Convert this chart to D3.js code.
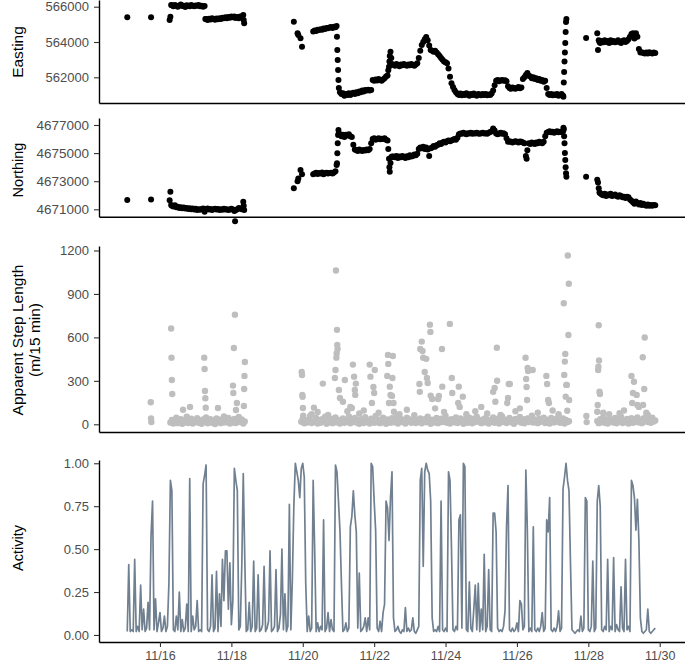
<!DOCTYPE html>
<html><head><meta charset="utf-8">
<script src="https://cdn.jsdelivr.net/npm/d3@7"></script>
<style>body{margin:0;background:#fff}svg{display:block}text{font-family:"Liberation Sans",Arial,sans-serif}</style>
</head><body><svg id="c" width="685" height="662"></svg>
<script>
// ---------------- DATA ----------------
const startTime = "2016-11-15T00:00:00Z";           // hour 0 of every hour offset below
const dateTicks = ["2016-11-16","2016-11-18","2016-11-20","2016-11-22","2016-11-24","2016-11-26","2016-11-28","2016-11-30"];
const eastingTicks = [562000, 564000, 566000];
const northingTicks = [4671000, 4673000, 4675000, 4677000];
const stepTicks = [0, 300, 600, 900, 1200];
const activityTicks = [0, 0.25, 0.5, 0.75, 1];

// GPS fixes: hour offset, easting, northing
const fixHour = [2,18,30.5,31,31.5,
 32,33,34,35,36,37,38,39,40,41,42,43,44,45,46,47,48,49,50,51,52,53,54,
 54.5,55,56,57,58,59,60,61,62,63,64,65,66,67,68,69,70,71,72,73,74,74.5,75,76,77,78,79,80,80.3,80.6,
 114,116.5,117,118.5,119.5,
 127,128,129,130,131,132,133,134,135,136,137,138,139,140,141,142,
 142.75,143,143.25,143.5,143.75,144,144.25,
 145,146,147,148,149,150,151,152,153,154,155,156,157,158,159,160,161,162,163,164,165,166,
 167,168,169,170,171,172,173,174,175,176,177,177.5,178,178.25,178.5,179,179.5,180,
 181,182,183,184,185,186,187,188,189,190,191,192,193,194,195,196,197,
 198,199,200,201,202,203,204,205,206,207,208,209,210,211,212,213,214,215,216,217,218,219,220,221,222,223,
 224,225,226,227,228,229,230,231,232,233,234,235,236,237,238,239,240,241,242,243,244,245,246,247,248,249,
 250,251,252,253,254,255,256,257,258,259,260,261,262,263,264,265,266,267,268,269,270,270.5,271,272,273,274,
 275,276,277,278,279,280,281,282,283,284,285,286,287,288,289,290,291,292,293,294,295,
 295.25,295.5,295.75,296,296.25,296.5,296.75,297,297.25,
 310.5,318,318.5,319,319.5,320,
 321,322,323,324,325,326,327,328,329,330,331,332,333,334,335,336,337,338,339,340,341,342,343,344,345,346,347,
 348,349,350,351,352,353,354,355,356,357];
const easting = [565400,565400,565250,565430,566100,
 566080,566020,566100,566050,566000,566070,566120,566040,566060,565990,566080,566050,566030,566100,566060,566020,566070,566050,566090,566030,566060,566000,566040,
 565300,565300,565250,565320,565280,565350,565300,565260,565330,565290,565350,565310,565380,565340,565400,565350,565420,565380,565440,565400,565450,565380,565380,565420,565350,565450,565400,565530,565250,565060,
 565150,564490,564400,564210,563730,
 564600,564650,564620,564700,564680,564720,564700,564760,564740,564800,564780,564820,564850,564800,564860,564830,
 564900,564300,563550,562980,562410,561850,561400,
 561150,561050,561100,560950,561050,561000,561100,561000,561080,561120,561050,561150,561100,561200,561150,561250,561200,561280,561250,561300,561250,561280,
 561850,561800,561870,561820,561900,561850,561800,561880,561950,562050,562100,562400,562600,562900,563200,563450,563100,562750,
 562700,562650,562750,562700,562620,562720,562680,562750,562700,562650,562730,562680,562760,562700,562650,562720,562800,
 563100,563500,563830,564000,564150,564280,564100,563800,563550,563500,563450,563500,563400,563300,563200,563100,563000,562900,562850,562800,562500,562030,561670,561450,561280,561150,
 561050,561000,561080,560980,561050,561000,561100,561020,560950,561050,561000,561080,561000,560960,561050,561020,560980,561060,561000,561050,560980,561030,561000,561080,561250,561550,
 561800,561850,561780,561820,561850,561800,561830,561780,561500,561400,561350,561420,561380,561350,561400,561450,561380,561420,561900,562000,562130,562100,562240,562100,562050,561950,
 562000,561900,561950,561850,561900,561800,561850,561750,561800,561400,561050,561000,561050,560980,561020,561000,561050,560950,561000,561050,560950,
 560900,561700,562300,562900,563400,563950,564570,565130,565300,
 564230,564490,563550,564100,564000,563950,
 564050,563980,564100,564000,564050,563950,564100,564000,564050,563980,564020,564100,564000,563950,564050,564100,564000,564050,564150,564300,564450,564500,564200,564500,564300,563600,563400,
 563420,563380,563350,563400,563350,563420,563380,563350,563400,563380];
const northing = [4671660,4671700,4671650,4672250,4671300,
 4671250,4671200,4671280,4671150,4671180,4671100,4671150,4671080,4671120,4671050,4671100,4671020,4671080,4671000,4671050,4670980,4671040,4670950,4671000,4670960,4671020,4671050,4670830,
 4671000,4671000,4671050,4670980,4671020,4670950,4671000,4671040,4670980,4671020,4670950,4671000,4670960,4671030,4670980,4671010,4670950,4670990,4671040,4670980,4670880,4670150,4670950,4671000,4671100,4671050,4671000,4671540,4671250,4670950,
 4672500,4673000,4673200,4673800,4673500,
 4673500,4673550,4673600,4673520,4673580,4673550,4673620,4673500,4673560,4673600,4673540,4673580,4673600,4673550,4673620,4673700,
 4674150,4674270,4674990,4675700,4676290,4676650,4676400,
 4676350,4676200,4676300,4676150,4676300,4676250,4676350,4676200,4676150,4675600,4675250,4675200,4675150,4675250,4675200,4675150,4675220,4675180,4675250,4675200,4675300,4675700,
 4676000,4676050,4675950,4676000,4676050,4675980,4676020,4676000,4676050,4675950,4675900,4675300,4674600,4674000,4673670,4674300,4674700,4674750,
 4674750,4674700,4674800,4674650,4674750,4674700,4674800,4674720,4674650,4674780,4674700,4674850,4674750,4674800,4674900,4674850,4674950,
 4675300,4675400,4675350,4675450,4675300,4675400,4675250,4674800,4675350,4675400,4675500,4675450,4675550,4675600,4675700,4675650,4675750,4675800,4675750,4675850,4675900,4675850,4675900,4675950,4676000,4675950,
 4676100,4676350,4676400,4676380,4676450,4676400,4676350,4676420,4676400,4676450,4676380,4676420,4676400,4676450,4676400,4676380,4676420,4676450,4676400,4676420,4676380,4676450,4676500,4676550,4676750,4676600,
 4676400,4676350,4676400,4676450,4676380,4676420,4676350,4676050,4675800,4675850,4675800,4675750,4675800,4675850,4675800,4675750,4675820,4675800,4675750,4675700,4674800,4674600,4675200,4675700,4675650,4675750,
 4675700,4675650,4675750,4675700,4675800,4675750,4675700,4675800,4676200,4676450,4676500,4676550,4676480,4676520,4676450,4676500,4676550,4676480,4676520,4676500,4676550,
 4676800,4676700,4676200,4675700,4675000,4674500,4674000,4673560,4673320,
 4673320,4673100,4672900,4672500,4672200,4672150,
 4672050,4672000,4672100,4671950,4672050,4672000,4672100,4671950,4672000,4672050,4671950,4671900,4672000,4671950,4671850,4671900,4671800,4671900,4671850,4671700,4671600,4671500,4671400,4671550,4671450,4671350,4671450,
 4671300,4671400,4671300,4671250,4671350,4671250,4671300,4671250,4671300,4671280];

// Apparent step length (m / 15 min): hourly low-level values for three continuous stretches
const stepSegStart = [31, 119, 318];
const stepSeg1 = [12,30,5,22,45,8,18,35,3,26,14,52,9,20,38,6,28,15,42,10,24,4,33,17,48,7,21,36,11,27,2,40,16,31,8,25,55,13,19,44,6,29,12,37,9,23,50,15,34,5,20];
const stepSeg2 = [18,40,7,25,12,33,60,9,22,15,44,6,28,11,35,19,52,3,26,14,38,8,21,47,13,30,5,24,41,10,
 27,16,55,7,32,18,43,12,29,4,36,20,9,49,15,26,6,39,22,11,58,14,31,8,24,45,17,3,34,21,
 10,42,27,13,50,6,23,37,16,29,5,46,19,33,11,25,62,9,28,15,40,7,22,35,14,53,18,4,31,24,
 12,44,8,27,39,16,21,57,10,30,6,36,23,14,48,9,26,41,17,3,33,20,11,45,28,7,38,15,52,19,
 25,8,34,13,43,22,5,30,18,47,10,27,39,6,24,54,16,32,9,21,44,14,29,3,37,19,26,50,11,35,
 7,23,41,15,28,60,12,34,20,8,38,17,25,46,9,31,22,5,43,27,13,36,19,55,10,24,40,6,30,16,21];
const stepSeg3 = [22,8,35,14,47,10,28,5,39,18,26,12,44,7,31,20,52,9,24,15,37,6,29,42,11,33,17,48,13,25,8,40,21,55,16,30,10,45,19,27];
// larger individual steps
const stepPeakHour = [17.8,18,18.2,31.5,31.75,32,32.25,39.5,44.2,53.75,54,54.25,54.5,54.75,63,73.1,73.3,73.7,74.4,75.1,75.7,80.4,80.6,80.8,81.1,
 119.3,119.5,119.7,119.9,120.1,120.3,126,127.5,130,133.5,137,141.6,142,142.3,142.6,142.8,143,143.2,143.4,144.3,145,147,148.3,150,
 152,153,153.7,154.5,155,155.3,155.7,158,161,165,165.5,166.5,167.5,168,168.4,171,
 176.8,177.3,177.5,178,178.5,179,180,180.3,180.6,181,181.3,185,190,
 198.4,198.7,199,200,200.5,201,202,203,203.5,204,205.5,205.8,206,207,209,211,211.5,213.6,213.8,215,218.9,220.2,220.5,
 224.5,224.9,225.5,227.6,230,236,240,244,248,249,249.5,250.5,250.7,253,257.5,258,258.5,259.2,263,266,
 269.8,270.2,270.5,270.8,271.2,271.5,274.6,278,283.8,284.3,285,285.5,288,292,
 295.5,295.8,296.2,296.5,296.8,297.2,297.5,297.8,298.2,298.6,298.9,299.1,310.7,310.9,
 318,318.3,318.6,318.8,319,319.2,319.5,319.8,322,326,333,336,341,341.5,342,342.7,344.5,345,346,348.6,348.8,349.6,349.9,351,352,354];
const stepPeakLen = [152,40,15,661,460,306,209,100,120,460,382,230,180,115,113,267,216,527,757,99,147,126,244,334,430,
 361,340,203,190,113,60,70,115,85,281,65,320,375,1062,460,490,652,548,520,237,182,156,306,90,
 120,113,412,329,237,203,281,75,95,412,329,147,258,216,375,80,
 334,479,417,147,260,203,196,320,472,147,87,70,100,
 278,224,520,571,506,459,361,452,320,285,688,638,198,175,110,175,196,520,260,85,693,320,216,
 147,260,120,191,70,90,120,75,224,251,156,529,301,65,147,182,278,278,90,110,
 459,313,258,168,389,368,375,80,334,278,168,147,95,70,
 836,341,433,486,191,272,272,94,1165,617,970,168,57,15,
 87,133,375,398,684,440,225,209,80,70,76,95,334,147,216,294,203,133,120,463,133,244,599,80,64,30];

// Activity index, one value per hour from startTime (null = no record)
const activity = [null,null,0.02,0.41,0.02,0.03,0.02,0.44,0.02,0.05,
 0.02,0.29,0.03,0.15,0.02,0.04,0.19,0.03,0.58,0.78,
 0.03,0.21,0.02,0.07,0.13,0.02,0.04,0.11,0.02,0.05,
 0.30,0.90,0.84,0.03,0.02,0.11,0.03,0.25,0.02,0.09,
 0.02,0.04,0.18,0.02,0.91,0.02,0.11,0.03,0.05,0.20,
 0.02,0.03,0.02,0.88,0.93,0.99,0.03,0.02,0.05,0.35,
 0.02,0.04,0.37,0.02,0.24,0.05,0.44,0.20,0.49,0.49,
 0.15,0.42,0.06,0.20,0.97,0.90,0.84,0.03,0.05,0.40,
 0.94,0.45,0.02,0.03,0.19,0.02,0.05,0.43,0.02,0.04,
 0.35,0.02,0.03,0.06,0.40,0.02,0.04,0.08,0.49,0.02,
 0.03,0.05,0.38,0.02,0.04,0.12,0.50,0.03,0.24,0.02,
 0.05,0.76,0.03,0.32,0.75,1.00,0.95,0.90,0.80,0.97,
 1.00,0.92,0.30,0.02,0.11,0.02,0.04,0.90,0.50,0.02,
 0.07,0.02,0.05,0.03,0.67,0.02,0.04,0.13,0.02,0.09,
 0.03,0.02,0.99,0.95,0.78,0.61,0.30,0.02,0.03,0.07,
 0.02,0.04,0.63,0.69,0.84,0.70,0.60,0.04,0.36,0.02,
 0.03,0.05,0.10,0.02,0.10,0.03,1.00,0.98,0.78,0.61,
 0.04,0.02,0.08,0.02,0.13,0.18,0.78,0.74,0.55,0.80,
 0.95,0.10,0.02,0.03,0.05,0.02,0.01,0.03,0.02,0.16,
 0.02,0.04,0.02,0.03,0.10,0.02,0.01,0.03,0.05,0.90,
 0.97,0.40,0.95,1.00,0.96,0.94,0.78,0.10,0.02,0.03,
 0.02,0.05,0.02,0.78,0.03,0.02,0.04,0.02,0.95,0.90,
 0.50,0.03,0.02,0.05,0.03,0.67,0.70,0.04,1.00,0.98,
 0.03,0.02,0.31,0.04,0.02,0.15,0.29,0.03,0.30,0.02,
 0.15,0.03,0.47,0.02,0.05,0.38,0.03,0.02,0.71,0.71,
 0.60,0.04,0.02,0.03,0.02,0.05,0.14,0.63,0.87,0.03,
 0.02,0.04,0.02,0.03,0.07,0.02,0.20,0.18,0.03,0.05,
 0.96,0.61,0.02,0.04,0.02,0.63,0.03,0.02,0.04,0.02,
 0.05,0.13,0.02,0.04,0.67,0.60,0.80,0.03,0.02,0.04,
 0.02,0.05,0.14,0.02,0.04,0.85,0.92,1.00,0.90,0.84,
 0.42,0.03,0.02,0.01,0.02,0.03,0.02,0.11,0.02,0.04,
 0.80,0.78,0.03,0.02,0.05,0.43,0.02,0.04,0.78,0.87,
 0.75,0.03,0.02,0.05,0.03,0.44,0.02,0.05,0.03,0.45,
 0.02,0.06,0.03,0.02,0.28,0.04,0.02,0.44,0.03,0.05,
 0.02,0.90,0.87,0.80,0.61,0.79,0.55,0.10,0.02,0.01,
 0.02,0.03,0.15,0.02,0.01,0.02,0.03,0.04];

// ---------------- DRAWING ----------------
const t0 = new Date(startTime).getTime();
const hourDate = h => new Date(t0 + h * 3600e3);
const svg = d3.select("#c");
const left = 99, right = 685;
const x = d3.scaleUtc().domain([hourDate(-17), hourDate(377)]).range([left, right]);

const panels = [
  {key:"E", top:0,   bottom:103,   domain:[560544,566380],   ticks:eastingTicks,  fmt:d3.format("d"), fs:13},
  {key:"N", top:118, bottom:216.7, domain:[4670473,4677498], ticks:northingTicks, fmt:d3.format("d"), fs:13.5},
  {key:"S", top:246, bottom:432,   domain:[-53.2,1231],      ticks:stepTicks,     fmt:d3.format("d"), fs:13},
  {key:"A", top:460, bottom:642,   domain:[-0.041,1.019],    ticks:activityTicks, fmt:d3.format(".2f"), fs:13}
];
const ys = {};
panels.forEach(p => {
  ys[p.key] = d3.scaleLinear().domain(p.domain).range([p.bottom, p.top]);
});

// data marks
const fixes = fixHour.map((h,i) => ({t: hourDate(h), e: easting[i], n: northing[i]}));
svg.append("g").selectAll("circle").data(fixes).join("circle")
  .attr("cx", d => x(d.t)).attr("cy", d => ys.E(d.e)).attr("r", 3.0).attr("fill", "#000");
svg.append("g").selectAll("circle").data(fixes).join("circle")
  .attr("cx", d => x(d.t)).attr("cy", d => ys.N(d.n)).attr("r", 3.0).attr("fill", "#000");

const steps = [];
[stepSeg1, stepSeg2, stepSeg3].forEach((seg, k) => seg.forEach((v, i) => steps.push({t: hourDate(stepSegStart[k] + i), v})));
stepPeakHour.forEach((h, i) => steps.push({t: hourDate(h), v: stepPeakLen[i]}));
svg.append("g").selectAll("circle").data(steps).join("circle")
  .attr("cx", d => x(d.t)).attr("cy", d => ys.S(d.v)).attr("r", 3.2).attr("fill", "#BEBEBE");

const act = activity.map((v, i) => ({t: hourDate(i), v}));
svg.append("path").datum(act)
  .attr("fill", "none").attr("stroke", "#708090").attr("stroke-width", 1.7).attr("stroke-linejoin", "round")
  .attr("d", d3.line().defined(d => d.v != null).x(d => x(d.t)).y(d => ys.A(d.v)));

// axes
panels.forEach(p => {
  const g = svg.append("g").attr("transform", `translate(${left},0)`)
    .call(d3.axisLeft(ys[p.key]).tickValues(p.ticks).tickFormat(p.fmt).tickSize(5).tickPadding(5).tickSizeOuter(0));
  g.select(".domain").attr("stroke", "#000").attr("stroke-width", 1.4);
  g.selectAll(".tick line").attr("stroke", "#333").attr("stroke-width", 1.1);
  g.selectAll(".tick text").attr("fill", "#4D4D4D").attr("font-size", p.fs).attr("font-family", null);
  const gx = svg.append("g").attr("transform", `translate(0,${p.bottom})`);
  if (p.key === "A") {
    gx.call(d3.axisBottom(x).tickValues(dateTicks.map(s => new Date(s + "T00:00:00Z")))
      .tickFormat(d3.utcFormat("%m/%d")).tickSize(5).tickPadding(4).tickSizeOuter(0));
    gx.selectAll(".tick text").attr("fill", "#4D4D4D").attr("font-size", 12.5).attr("font-family", null);
    gx.selectAll(".tick line").attr("stroke", "#333").attr("stroke-width", 1.1);
  } else {
    gx.call(d3.axisBottom(x).tickValues([]).tickSizeOuter(0));
  }
  gx.select(".domain").attr("stroke", "#000").attr("stroke-width", 1.4);
});

// axis titles
function title(lines, cx, cy, fs) {
  const t = svg.append("text").attr("transform", `translate(${cx},${cy}) rotate(-90)`)
    .attr("text-anchor", "middle").attr("font-size", fs).attr("fill", "#000");
  lines.forEach((s, i) => t.append("tspan").attr("x", 0).attr("dy", i === 0 ? 0 : "1.1em").text(s));
}
title(["Easting"], 23, 52, 15.5);
title(["Northing"], 23, 170, 14.5);
title(["Apparent Step Length", "(m/15 min)"], 23, 340, 15.5);
title(["Activity"], 23, 548, 14.5);
</script></body></html>
